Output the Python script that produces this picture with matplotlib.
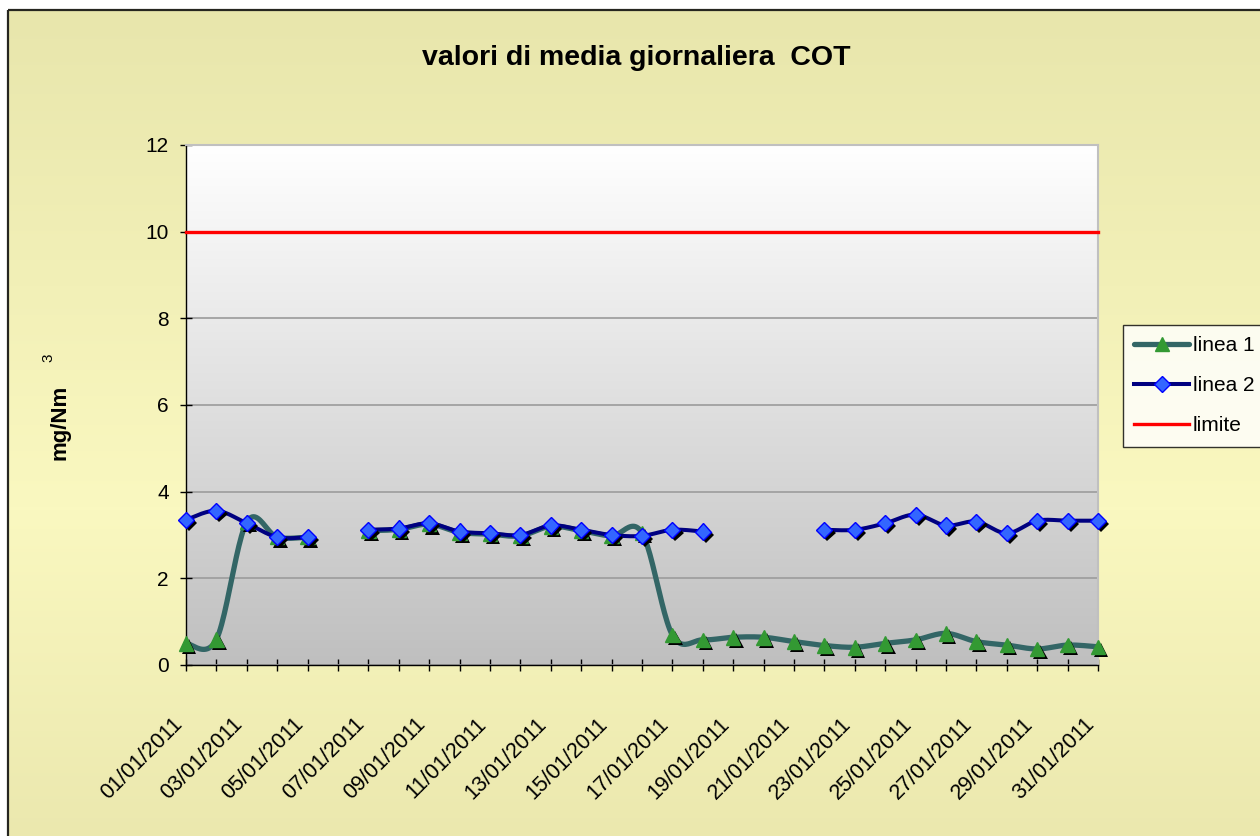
import numpy as np
import matplotlib
matplotlib.use("Agg")
import matplotlib.pyplot as plt
from matplotlib.lines import Line2D
from matplotlib.patches import Rectangle
from matplotlib.colors import LinearSegmentedColormap
import matplotlib.patheffects as pe
import matplotlib.transforms as mtransforms

plt.rcParams['font.family'] = ['Liberation Sans', 'DejaVu Sans']

# ---------------- data ----------------
days = list(range(1, 32))
date_labels = ["01/01/2011", "", "03/01/2011", "", "05/01/2011", "", "07/01/2011", "",
               "09/01/2011", "", "11/01/2011", "", "13/01/2011", "", "15/01/2011", "",
               "17/01/2011", "", "19/01/2011", "", "21/01/2011", "", "23/01/2011", "",
               "25/01/2011", "", "27/01/2011", "", "29/01/2011", "", "31/01/2011"]
nan = np.nan
linea1 = [0.50, 0.59, 3.30, 2.95, 2.95, nan, 3.10, 3.13, 3.25, 3.06, 3.02, 2.98,
          3.20, 3.10, 2.98, 3.05, 0.69, 0.58, 0.64, 0.64, 0.54, 0.45, 0.41, 0.50,
          0.58, 0.73, 0.54, 0.46, 0.37, 0.46, 0.42]
linea2 = [3.35, 3.56, 3.27, 2.95, 2.95, nan, 3.12, 3.15, 3.27, 3.08, 3.04, 3.00,
          3.22, 3.12, 3.00, 2.98, 3.12, 3.08, nan, nan, nan, 3.12, 3.12, 3.27,
          3.47, 3.22, 3.31, 3.04, 3.33, 3.33, 3.33]
limite = [10] * 31
y_ticks = [0, 2, 4, 6, 8, 10, 12]
title = "valori di media giornaliera  COT"
series_names = ["linea 1", "linea 2", "limite"]


def smooth(x, y, n=24):
    """Excel-style smoothed line (Bezier through points), split at gaps."""
    x = np.asarray(x, float)
    y = np.asarray(y, float)
    idx = np.where(~np.isnan(y))[0]
    runs = np.split(idx, np.where(np.diff(idx) != 1)[0] + 1)
    xs, ys = [], []
    for r in runs:
        if len(r) == 0:
            continue
        P = np.column_stack([x[r], y[r]])
        if len(P) == 1:
            xs += [P[0, 0], nan]
            ys += [P[0, 1], nan]
            continue
        Pe = np.vstack([P[0], P, P[-1]])
        t = np.linspace(0, 1, n)[:, None]
        for i in range(len(P) - 1):
            p0, p1, p2, p3 = Pe[i], Pe[i + 1], Pe[i + 2], Pe[i + 3]
            c1 = p1 + (p2 - p0) / 6
            c2 = p2 - (p3 - p1) / 6
            B = (1 - t) ** 3 * p1 + 3 * (1 - t) ** 2 * t * c1 + 3 * (1 - t) * t ** 2 * c2 + t ** 3 * p2
            xs.extend(B[:, 0])
            ys.extend(B[:, 1])
        xs.append(nan)
        ys.append(nan)
    return np.array(xs), np.array(ys)


W, H = 1260, 836
fig = plt.figure(figsize=(W / 100, H / 100), dpi=100)
fig.patch.set_facecolor("white")

# ---------- figure background (yellow gradient with border) ----------
bg = fig.add_axes([0, 0, 1, 1], zorder=-10)
bg.axis("off")
ycol = LinearSegmentedColormap.from_list(
    "ybg", [(0.0, "#E8E6AC"), (0.6, "#FAF8C0"), (1.0, "#EBE8AE")])
grad = np.linspace(0, 1, 256)[:, None]
bg.imshow(grad, cmap=ycol, extent=(8, W + 5, H + 5, 10), aspect="auto", origin="upper")
bg.add_patch(Rectangle((8, 10), W, H, fill=False, edgecolor="#262620", lw=1.6))
bg.set_xlim(0, W)
bg.set_ylim(H, 0)

# ---------- main axes ----------
L, R, T, B = 186, 1098, 145, 665
ax = fig.add_axes([L / W, 1 - B / H, (R - L) / W, (B - T) / H])
gcmap = LinearSegmentedColormap.from_list("pg", ["#FFFFFF", "#BFBFBF"])
ax.imshow(grad, cmap=gcmap, extent=(1, 31, 0, 12), aspect="auto", origin="upper", zorder=0)

ax.set_xlim(1, 31)
ax.set_ylim(0, 12)
ax.set_axisbelow(True)
ax.yaxis.grid(True, color="#A0A0A0", lw=1.3)

shadow = [pe.SimplePatchShadow(offset=(2.2, -2.2), shadow_rgbFace="black", alpha=1.0), pe.Normal()]

# linea 1
sx, sy = smooth(days, linea1)
ax.plot(sx, sy, color="#336666", lw=3.8, solid_capstyle="round", zorder=3, clip_on=False)
ax.plot(days, linea1, ls="none", marker="^", ms=10.5, mfc="#339933", mec="#339933",
        zorder=4, clip_on=False, path_effects=shadow)
# linea 2
sx2, sy2 = smooth(days, linea2)
ax.plot(sx2, sy2, color="#000080", lw=2.9, solid_capstyle="round", zorder=5, clip_on=False)
ax.plot(days, linea2, ls="none", marker="D", ms=8.2, mfc="#3366FF", mec="#0000FF", mew=1.0,
        zorder=6, clip_on=False, path_effects=shadow)
# limite
ax.plot(days, limite, color="#FF0000", lw=2.4, zorder=7, clip_on=False)

# spines
for s in ("left", "bottom"):
    ax.spines[s].set_color("black")
    ax.spines[s].set_linewidth(1.0)
for s in ("top", "right"):
    ax.spines[s].set_color("#C0C0C0")
    ax.spines[s].set_linewidth(1.5)

ax.set_yticks(y_ticks)
ax.set_yticklabels([str(v) for v in y_ticks], fontsize=15)
ax.set_xticks(days)
ax.set_xticklabels(date_labels, fontsize=15.5, rotation=45, ha="right", va="center",
                   rotation_mode="anchor")
ax.tick_params(axis="both", direction="inout", length=9, width=1.0, color="black")
ax.tick_params(axis="y", pad=8)
ax.tick_params(axis="x", pad=36)
off = mtransforms.ScaledTranslation(-7 / 100, 0, fig.dpi_scale_trans)
for lab in ax.get_xticklabels():
    lab.set_transform(lab.get_transform() + off)

# title & y label
fig.text(636 / W, 1 - 58 / H, title, ha="center", va="center", fontsize=20.5, fontweight="bold")
fig.text(60 / W, 1 - 422 / H, "mg/Nm", rotation=90, ha="center", va="center",
         fontsize=16, fontweight="bold")
fig.text(48 / W, 1 - 358 / H, "3", rotation=90, ha="center", va="center", fontsize=11)

# legend
handles = [
    Line2D([], [], color="#336666", lw=3.8, marker="^", ms=10.5, mfc="#339933", mec="#339933",
           solid_capstyle="round"),
    Line2D([], [], color="#000080", lw=2.9, marker="D", ms=8.2, mfc="#3366FF", mec="#0000FF"),
    Line2D([], [], color="#FF0000", lw=2.4),
]
leg = fig.legend(handles, series_names, loc="upper left",
                 bbox_to_anchor=(1123 / W, 1 - 325 / H), bbox_transform=fig.transFigure,
                 fontsize=15, frameon=True, fancybox=False, borderaxespad=0,
                 handlelength=2.6, handletextpad=0.2, borderpad=0.55, labelspacing=1.0)
leg.get_frame().set_edgecolor("black")
leg.get_frame().set_linewidth(1.0)
leg.get_frame().set_facecolor("white")

fig.savefig("out.png", dpi=100)
